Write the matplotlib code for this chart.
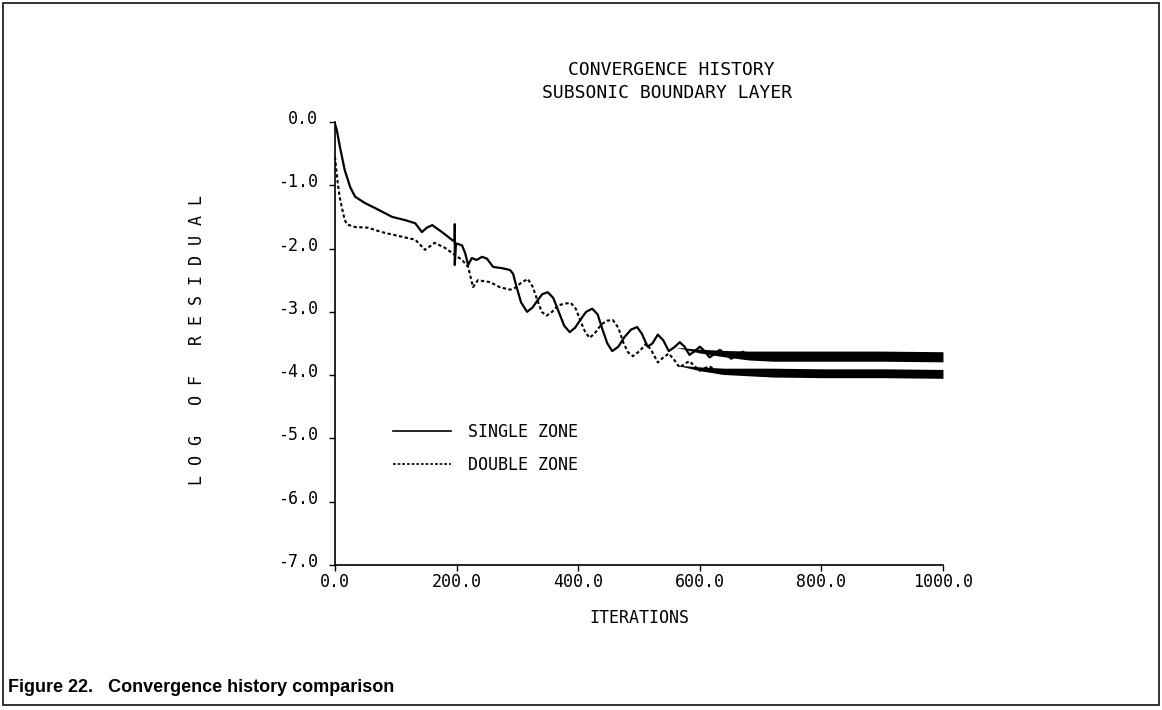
import numpy as np
import matplotlib
matplotlib.use("Agg")
import matplotlib.pyplot as plt
from matplotlib.patches import Rectangle
from matplotlib.lines import Line2D
import matplotlib.transforms as mtransforms

# single zone (solid)
single_iter = [0, 3, 8, 16, 25, 33, 49, 66, 94, 115, 132, 143, 151, 160, 176, 192,
               197, 197, 197, 199, 203, 209, 214, 219, 225, 233, 242, 250, 260, 275,
               288, 293, 299, 306, 316, 325, 333, 341, 350, 359, 368, 377, 386, 395,
               404, 413, 423, 432, 440, 448, 456, 466, 476, 487, 497, 505, 514, 522,
               531, 540, 549, 558, 567, 575, 583, 592, 600, 608, 616, 625, 633, 642,
               652, 661, 671, 680, 690, 700, 710, 720, 760, 800, 850, 900, 950, 1000]
single_val = [-0.03, -0.13, -0.39, -0.76, -1.03, -1.18, -1.28, -1.36, -1.50, -1.55, -1.60, -1.74, -1.67, -1.63, -1.74, -1.86,
              -1.89, -1.62, -2.26, -1.92, -1.93, -1.95, -2.07, -2.26, -2.15, -2.18, -2.13, -2.16, -2.29, -2.31,
              -2.34, -2.40, -2.62, -2.85, -3.00, -2.93, -2.82, -2.72, -2.69, -2.78, -3.00, -3.22, -3.32, -3.25,
              -3.12, -3.00, -2.95, -3.04, -3.28, -3.50, -3.62, -3.55, -3.40, -3.28, -3.24, -3.35, -3.55, -3.50,
              -3.36, -3.45, -3.62, -3.56, -3.48, -3.55, -3.68, -3.62, -3.55, -3.62, -3.72, -3.66, -3.60, -3.67,
              -3.74, -3.68, -3.63, -3.70, -3.74, -3.68, -3.66, -3.70, -3.70, -3.68, -3.70, -3.70, -3.70, -3.71]

# double zone (dashed)
double_iter = [0, 2, 5, 8, 11, 16, 20, 33, 54, 77, 104, 132, 148, 164, 181, 197, 209, 219,
               227, 235, 255, 271, 288, 296, 305, 317, 325, 333, 340, 348, 357, 367, 377,
               388, 396, 404, 412, 419, 428, 438, 447, 457, 466, 474, 482, 490, 501, 512,
               521, 531, 540, 549, 558, 567, 575, 583, 592, 600, 608, 616, 625, 633, 680,
               720, 800, 900, 1000]
double_val = [-0.55, -0.75, -1.00, -1.20, -1.34, -1.55, -1.62, -1.66, -1.67, -1.74, -1.80, -1.86, -2.02, -1.91, -1.99, -2.10, -2.18, -2.29,
              -2.61, -2.50, -2.53, -2.61, -2.65, -2.62, -2.55, -2.48, -2.60, -2.82, -3.00, -3.06, -3.00, -2.90, -2.87,
              -2.86, -2.95, -3.15, -3.33, -3.41, -3.33, -3.20, -3.14, -3.13, -3.25, -3.48, -3.64, -3.70, -3.62, -3.50,
              -3.62, -3.80, -3.72, -3.66, -3.76, -3.88, -3.82, -3.78, -3.86, -3.93, -3.89, -3.86, -3.92, -3.97, -3.96,
              -3.96, -3.97, -3.97, -3.98]

# thick tails (fast oscillation smears into a band)
single_band_iter = [560, 600, 640, 680, 720, 800, 900, 1000]
single_band_mid = [-3.56, -3.62, -3.66, -3.69, -3.70, -3.70, -3.70, -3.71]
single_band_half = [0.0, 0.03, 0.05, 0.07, 0.08, 0.08, 0.08, 0.08]
double_band_iter = [560, 600, 640, 680, 720, 800, 900, 1000]
double_band_mid = [-3.84, -3.90, -3.94, -3.95, -3.96, -3.97, -3.97, -3.98]
double_band_half = [0.0, 0.03, 0.05, 0.06, 0.07, 0.07, 0.07, 0.07]

x_ticks = [0, 200, 400, 600, 800, 1000]
x_labels = ["0.0", "200.0", "400.0", "600.0", "800.0", "1000.0"]
y_ticks = [0, -1, -2, -3, -4, -5, -6, -7]
y_labels = ["0.0", "-1.0", "-2.0", "-3.0", "-4.0", "-5.0", "-6.0", "-7.0"]

mono = "DejaVu Sans Mono"
dash = (0, (1.6, 1.2))

fig = plt.figure(figsize=(11.62, 7.1), dpi=100, facecolor="white")
ax = fig.add_axes([0.2883, 0.2042, 0.5232, 0.624])

ax.plot(single_iter, single_val, color="black", lw=1.6, solid_joinstyle="round")
ax.plot(double_iter, double_val, color="black", lw=1.5, linestyle=dash)
ax.fill_between(single_band_iter, np.array(single_band_mid) - np.array(single_band_half),
                np.array(single_band_mid) + np.array(single_band_half), color="black", lw=0)
ax.fill_between(double_band_iter, np.array(double_band_mid) - np.array(double_band_half),
                np.array(double_band_mid) + np.array(double_band_half), color="black", lw=0)

ax.set_xlim(0, 1000)
ax.set_ylim(-7, 0)
ax.set_xticks(x_ticks)
ax.set_xticklabels(x_labels, fontfamily=mono, fontsize=12)
ax.set_yticks(y_ticks)
ax.set_yticklabels(y_labels, fontfamily=mono, fontsize=12)
ax.tick_params(axis="x", direction="out", length=4, width=1, pad=2)
ax.tick_params(axis="y", direction="out", length=4, width=1, pad=8)
ax.spines["top"].set_visible(False)
ax.spines["right"].set_visible(False)
ax.spines["left"].set_linewidth(1.2)
ax.spines["bottom"].set_linewidth(1.2)

# y tick labels sit a bit above their ticks
shift = mtransforms.ScaledTranslation(0, 5 / 100, fig.dpi_scale_trans)
for lab in ax.get_yticklabels():
    lab.set_transform(lab.get_transform() + shift)

handles = [Line2D([], [], color="black", lw=1.2),
           Line2D([], [], color="black", lw=1.2, linestyle=dash)]
ax.legend(handles, ["SINGLE ZONE", "DOUBLE ZONE"], loc="upper left",
          bbox_to_anchor=(0.095, 0.32), frameon=False, handlelength=3.5,
          handletextpad=1.0, labelspacing=0.9, borderpad=0, borderaxespad=0,
          prop={"family": mono, "size": 12})

ax.set_xlabel("ITERATIONS", fontfamily=mono, fontsize=12, labelpad=13)
fig.text(0.1695, 0.521, "L O G   O F   R E S I D U A L", rotation=90,
         ha="center", va="center", fontfamily=mono, fontsize=12)

fig.text(0.5774, 0.901, "CONVERGENCE HISTORY", ha="center", va="center",
         fontfamily=mono, fontsize=13)
fig.text(0.574, 0.869, "SUBSONIC BOUNDARY LAYER", ha="center", va="center",
         fontfamily=mono, fontsize=13)

fig.text(0.007, 0.031, "Figure 22.   Convergence history comparison", ha="left",
         va="center", fontfamily="Liberation Sans", fontweight="bold", fontsize=13)

# frame around the whole figure
fig.patches.append(Rectangle((0.003, 0.007), 0.994, 0.989, transform=fig.transFigure,
                             fill=False, edgecolor="#222222", lw=1.3))

fig.savefig("out.png", dpi=100)
